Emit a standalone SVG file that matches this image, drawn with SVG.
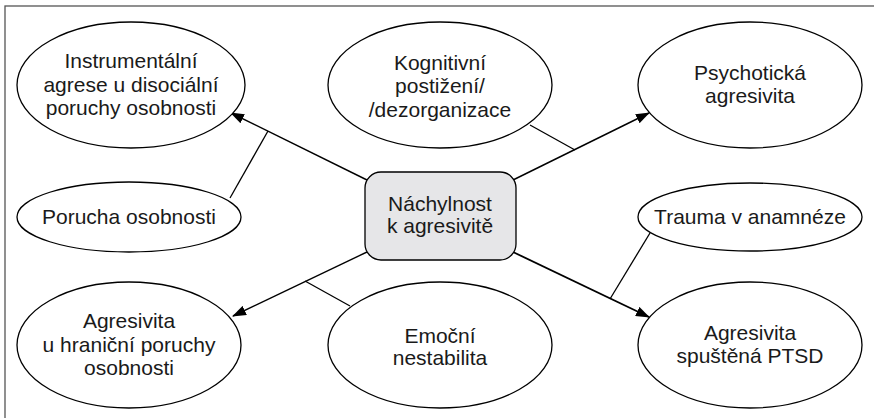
<svg xmlns="http://www.w3.org/2000/svg" width="874" height="418" viewBox="0 0 874 418">
<style>
.n{fill:#fff;stroke:#000;stroke-width:1.3}
.c{fill:#e6e6e8;stroke:#000;stroke-width:1.3}
text{font-family:"Liberation Sans",Arial,sans-serif;font-size:21px;fill:#1a1a1a;text-anchor:middle}
.l{stroke:#000;stroke-width:1.3;fill:none}
.a{stroke:#000;stroke-width:1.4;fill:none;marker-end:url(#ah)}
</style>
<defs>
<marker id="ah" markerWidth="14" markerHeight="10" refX="13" refY="5" orient="auto" markerUnits="userSpaceOnUse">
<path d="M0,0 L14,5 L0,10 Z" fill="#000"/>
</marker>
</defs>
<rect x="5" y="6" width="880" height="430" fill="#fff" stroke="#555" stroke-width="1.3"/>
<g id="connectors">
<line class="a" x1="367" y1="180" x2="231" y2="113"/>
<line class="l" x1="230" y1="198" x2="268" y2="131"/>
<line class="a" x1="513" y1="180" x2="649" y2="113"/>
<line class="l" x1="530" y1="125" x2="575" y2="150"/>
<line class="a" x1="367" y1="252" x2="233" y2="316"/>
<line class="l" x1="350" y1="306" x2="305" y2="281"/>
<line class="a" x1="513" y1="252" x2="649" y2="317" style="stroke-width:1.8"/>
<line class="l" x1="650" y1="233" x2="610" y2="299"/>
</g>
<g id="instrumentalni">
<ellipse class="n" cx="131" cy="85" rx="114" ry="63"/>
<text x="131" y="68">Instrumentální</text>
<text x="131" y="92">agrese u disociální</text>
<text x="131" y="115">poruchy osobnosti</text>
</g>
<g id="kognitivni">
<ellipse class="n" cx="440" cy="85" rx="112" ry="63"/>
<text x="440" y="70">Kognitivní</text>
<text x="440" y="93">postižení/</text>
<text x="440" y="117">/dezorganizace</text>
</g>
<g id="psychoticka">
<ellipse class="n" cx="750" cy="85" rx="112" ry="63"/>
<text x="750" y="80">Psychotická</text>
<text x="750" y="103">agresivita</text>
</g>
<g id="porucha">
<ellipse class="n" cx="129" cy="217" rx="112" ry="35"/>
<text x="129" y="224">Porucha osobnosti</text>
</g>
<g id="nachylnost">
<rect class="c" x="365" y="172" width="151" height="88" rx="16" ry="16"/>
<text x="440" y="211">Náchylnost</text>
<text x="440" y="233">k agresivitě</text>
</g>
<g id="trauma">
<ellipse class="n" cx="750" cy="217" rx="112" ry="34"/>
<text x="750" y="224">Trauma v anamnéze</text>
</g>
<g id="hranicni">
<ellipse class="n" cx="129" cy="345" rx="112" ry="63"/>
<text x="129" y="328">Agresivita</text>
<text x="129" y="352">u hraniční poruchy</text>
<text x="129" y="375">osobnosti</text>
</g>
<g id="emocni">
<ellipse class="n" cx="440" cy="345" rx="112" ry="63"/>
<text x="440" y="343">Emoční</text>
<text x="440" y="365">nestabilita</text>
</g>
<g id="ptsd">
<ellipse class="n" cx="750" cy="345" rx="112" ry="63"/>
<text x="750" y="340">Agresivita</text>
<text x="750" y="363">spuštěná PTSD</text>
</g>
</svg>
